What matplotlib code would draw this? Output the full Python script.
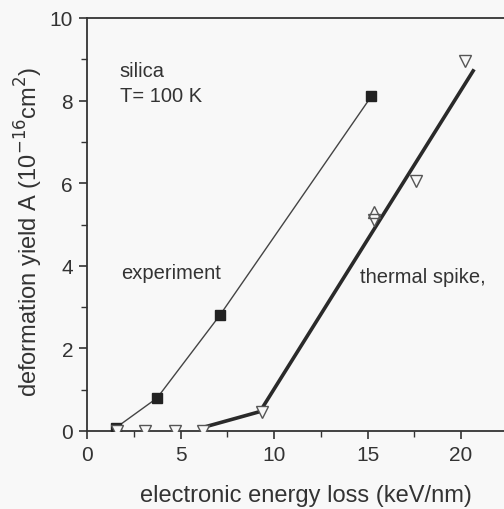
import numpy as np
import matplotlib
matplotlib.use('Agg')
import matplotlib.pyplot as plt
from matplotlib.ticker import MultipleLocator

plt.rcParams['font.family'] = ['Liberation Sans', 'DejaVu Sans']

# ── Datos ──────────────────────────────────────────────
exp_x = [1.55, 3.75, 7.1, 15.2]
exp_y = [0.08, 0.8, 2.8, 8.1]

sim_dn_x = [1.6, 3.1, 4.7, 6.2, 9.35, 15.35, 17.6, 20.2]
sim_dn_y = [0.0, 0.0, 0.0, 0.0, 0.47, 5.1, 6.05, 8.96]
sim_up_x = [15.35]
sim_up_y = [5.3]

fit_x = [6.15, 9.25, 20.65]
fit_y = [0.08, 0.47, 8.72]

TXT = '#333333'
BG = '#f8f8f8'

fig = plt.figure(figsize=(5.04, 5.10), dpi=100, facecolor=BG)
ax = fig.add_axes([87/504, 78/510, 1 - 87/504, 413/510])
ax.set_facecolor(BG)

ax.plot(exp_x, exp_y, color='#444444', lw=1.0, zorder=2)
ax.plot(exp_x, exp_y, 's', color='#222222', ms=7, zorder=4)
ax.plot(fit_x, fit_y, color='#2a2a2a', lw=2.6, zorder=3)
ax.plot(sim_dn_x, sim_dn_y, 'v', mfc=BG, mec='#555555', mew=1.0, ms=9, zorder=5)
ax.plot(sim_up_x, sim_up_y, '^', mfc='none', mec='#555555', mew=1.0, ms=9, zorder=5)

ax.set_xlim(0, (504 - 87) / 18.7)
ax.set_ylim(0, 10)
ax.xaxis.set_major_locator(MultipleLocator(5))
ax.xaxis.set_minor_locator(MultipleLocator(2.5))
ax.yaxis.set_major_locator(MultipleLocator(2))
ax.yaxis.set_minor_locator(MultipleLocator(1))
ax.tick_params(which='major', direction='out', length=6, width=1.2,
               labelsize=15, colors=TXT, pad=4)
ax.tick_params(which='minor', direction='out', length=4, width=1.0, colors=TXT)
for s in ['left', 'bottom', 'top']:
    ax.spines[s].set_linewidth(1.3)
    ax.spines[s].set_color('#333333')
ax.spines['right'].set_visible(False)

ax.set_xlabel('electronic energy loss (keV/nm)', fontsize=17, color=TXT)
ax.xaxis.set_label_coords(0.525, -0.128)
ax.set_ylabel(r'deformation yield A (10$^{-16}$cm$^{2}$)', fontsize=17, color=TXT)
ax.yaxis.set_label_coords(-0.10, 0.484)

ax.text(1.75, 8.6, 'silica', fontsize=14.5, color=TXT)
ax.text(1.75, 7.98, 'T= 100 K', fontsize=14.5, color=TXT)
ax.text(1.85, 3.7, 'experiment', fontsize=14.5, color=TXT)
ax.text(14.6, 3.6, 'thermal spike,', fontsize=14.5, color=TXT)

fig.savefig('out.png', dpi=100, facecolor=BG)
